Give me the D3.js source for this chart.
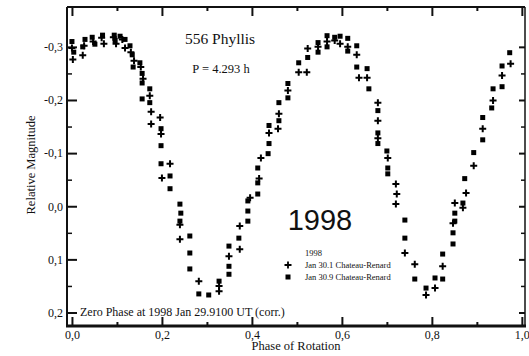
<!DOCTYPE html>
<html>
<head>
<meta charset="utf-8">
<script src="https://cdn.jsdelivr.net/npm/d3@7"></script>
<style>
	body { margin: 0; background: #fff; }
	svg text { font-family: "Liberation Serif", "Times New Roman", serif; fill: #111; }
</style>
</head>
<body>
<svg></svg>
<script>
// phase of rotation, relative magnitude
const jan301 = [
	[0.000,-0.298],[0.002,-0.276],[0.024,-0.284],[0.027,-0.302],[0.047,-0.310],[0.066,-0.317],
	[0.071,-0.306],[0.092,-0.318],[0.098,-0.306],[0.112,-0.314],[0.118,-0.298],[0.131,-0.290],
	[0.138,-0.274],[0.153,-0.262],[0.158,-0.240],[0.173,-0.208],[0.176,-0.178],[0.176,-0.155],
	[0.196,-0.167],[0.198,-0.136],[0.218,-0.080],[0.200,-0.053],[0.240,0.035],[0.240,0.062],
	[0.282,0.141],[0.327,0.150],[0.327,0.160],[0.349,0.094],[0.373,0.037],[0.373,0.081],
	[0.396,-0.016],[0.416,-0.052],[0.420,-0.091],[0.438,-0.138],[0.458,-0.146],[0.460,-0.174],
	[0.480,-0.218],[0.504,-0.252],[0.522,-0.252],[0.524,-0.297],[0.547,-0.300],[0.567,-0.310],
	[0.584,-0.312],[0.596,-0.306],[0.613,-0.300],[0.633,-0.285],[0.638,-0.242],[0.656,-0.242],
	[0.680,-0.195],[0.680,-0.161],[0.680,-0.128],[0.702,-0.091],[0.720,-0.042],[0.722,-0.023],
	[0.720,-0.004],[0.740,0.088],[0.762,0.109],[0.787,0.167],[0.807,0.154],[0.824,0.113],
	[0.847,0.032],[0.851,-0.006],[0.869,0.003],[0.876,-0.025],[0.893,-0.076],[0.913,-0.146],
	[0.936,-0.199],[0.956,-0.246],[0.975,-0.268]
];

const jan309 = [
	[0.000,-0.310],[0.004,-0.290],[0.024,-0.300],[0.029,-0.314],[0.045,-0.318],[0.051,-0.305],
	[0.068,-0.322],[0.094,-0.322],[0.096,-0.312],[0.107,-0.320],[0.118,-0.314],[0.129,-0.302],
	[0.134,-0.285],[0.136,-0.262],[0.151,-0.270],[0.156,-0.250],[0.156,-0.232],[0.156,-0.202],
	[0.173,-0.221],[0.173,-0.195],[0.198,-0.146],[0.198,-0.114],[0.198,-0.080],[0.218,-0.057],
	[0.218,-0.033],[0.240,-0.004],[0.242,0.013],[0.240,0.028],[0.262,0.056],[0.262,0.088],
	[0.262,0.118],[0.282,0.165],[0.304,0.167],[0.327,0.141],[0.349,0.075],[0.349,0.113],
	[0.349,0.128],[0.371,0.060],[0.391,-0.010],[0.391,0.009],[0.391,0.028],[0.413,-0.072],
	[0.413,-0.044],[0.413,-0.023],[0.436,-0.099],[0.438,-0.152],[0.438,-0.118],[0.460,-0.161],
	[0.460,-0.195],[0.480,-0.231],[0.480,-0.204],[0.504,-0.270],[0.524,-0.280],[0.547,-0.308],
	[0.547,-0.290],[0.567,-0.321],[0.567,-0.300],[0.584,-0.318],[0.596,-0.320],[0.613,-0.316],
	[0.613,-0.292],[0.633,-0.302],[0.633,-0.262],[0.656,-0.259],[0.660,-0.221],[0.680,-0.180],
	[0.680,-0.138],[0.680,-0.118],[0.700,-0.104],[0.702,-0.072],[0.702,-0.061],[0.740,0.026],
	[0.740,0.060],[0.762,0.137],[0.787,0.154],[0.807,0.135],[0.824,0.090],[0.824,0.137],
	[0.847,0.050],[0.847,0.071],[0.851,0.013],[0.851,0.028],[0.869,-0.006],[0.873,-0.052],
	[0.893,-0.101],[0.913,-0.167],[0.913,-0.125],[0.936,-0.221],[0.933,-0.185],[0.956,-0.264],
	[0.956,-0.225],[0.973,-0.289]
];

const xTicks = [0, 0.2, 0.4, 0.6, 0.8, 1.0];
const xMinor = [0.1, 0.3, 0.5, 0.7, 0.9];
const yTicks = [-0.3, -0.2, -0.1, 0.0, 0.1, 0.2];
const yMinor = [-0.25, -0.15, -0.05, 0.05, 0.15];
const legendLabels = ["Jan 30.1 Chateau-Renard", "Jan 30.9 Chateau-Renard"];

const W = 529, H = 356;
const plotL = 67, plotR = 525, plotT = 7, plotB = 325;

const svg = d3.select("svg").attr("width", W).attr("height", H);

const x = d3.scaleLinear().domain([-0.011, 1.007]).range([plotL, plotR]);
const y = d3.scaleLinear().domain([-0.375, 0.2235]).range([plotT, plotB]);

const fmt = (d) => d3.format(".1f")(d).replace("−", "-").replace(".", ",");

function styleAxis(g, w) {
	g.select(".domain").remove();
	g.selectAll("line").attr("stroke", "#111").attr("stroke-width", w);
	g.selectAll("text")
		.attr("font-family", "Liberation Serif, Times New Roman, serif")
		.attr("font-size", 12)
		.attr("fill", "#222");
}

// ticks point inward on all four sides
svg.append("g").attr("transform", `translate(${plotL},0)`)
	.call(d3.axisLeft(y).tickValues(yTicks).tickSize(-10).tickPadding(4).tickFormat(fmt))
	.call((g) => styleAxis(g, 2));
svg.append("g").attr("transform", `translate(${plotL},0)`)
	.call(d3.axisLeft(y).tickValues(yMinor).tickSize(-5).tickFormat(""))
	.call((g) => styleAxis(g, 1.5));
svg.append("g").attr("transform", `translate(${plotR},0)`)
	.call(d3.axisRight(y).tickValues(yTicks).tickSize(-6).tickFormat(""))
	.call((g) => styleAxis(g, 2));
svg.append("g").attr("transform", `translate(${plotR},0)`)
	.call(d3.axisRight(y).tickValues(yMinor).tickSize(-4).tickFormat(""))
	.call((g) => styleAxis(g, 1.5));
svg.append("g").attr("transform", `translate(0,${plotB})`)
	.call(d3.axisBottom(x).tickValues(xTicks).tickSize(-8).tickPadding(5).tickFormat(fmt))
	.call((g) => styleAxis(g, 2));
svg.append("g").attr("transform", `translate(0,${plotB})`)
	.call(d3.axisBottom(x).tickValues(xMinor).tickSize(-3).tickFormat(""))
	.call((g) => styleAxis(g, 2));
svg.append("g").attr("transform", `translate(0,${plotT})`)
	.call(d3.axisTop(x).tickValues(xTicks).tickSize(-9).tickFormat(""))
	.call((g) => styleAxis(g, 2));
svg.append("g").attr("transform", `translate(0,${plotT})`)
	.call(d3.axisTop(x).tickValues(xMinor).tickSize(-4).tickFormat(""))
	.call((g) => styleAxis(g, 2));

// frame
svg.append("line").attr("x1", plotL).attr("x2", plotL).attr("y1", plotT).attr("y2", plotB)
	.attr("stroke", "#111").attr("stroke-width", 2);
svg.append("line").attr("x1", plotR).attr("x2", plotR).attr("y1", plotT).attr("y2", plotB)
	.attr("stroke", "#111").attr("stroke-width", 1.5);
svg.append("line").attr("x1", plotL).attr("x2", plotR).attr("y1", plotT).attr("y2", plotT)
	.attr("stroke", "#111").attr("stroke-width", 2);
svg.append("line").attr("x1", plotL - 1).attr("x2", plotR + 1).attr("y1", plotB + 1).attr("y2", plotB + 1)
	.attr("stroke", "#111").attr("stroke-width", 3);

// axis titles
svg.append("text")
	.attr("x", (plotL + plotR) / 2)
	.attr("y", 350)
	.attr("text-anchor", "middle")
	.attr("font-size", 12.5)
	.text("Phase of Rotation");

svg.append("text")
	.attr("transform", "translate(35,165) rotate(-90)")
	.attr("text-anchor", "middle")
	.attr("font-size", 12.5)
	.text("Relative Magnitude");

// annotations
svg.append("text").attr("x", 220).attr("y", 44).attr("text-anchor", "middle")
	.attr("font-size", 15.5).text("556 Phyllis");
svg.append("text").attr("x", 221).attr("y", 73).attr("text-anchor", "middle")
	.attr("font-size", 12.5).text("P = 4.293 h");
svg.append("text").attr("x", 320).attr("y", 230).attr("text-anchor", "middle")
	.attr("font-size", 29).style("font-family", "Liberation Sans, Arial, sans-serif").text("1998");
svg.append("text").attr("x", 80).attr("y", 316)
	.attr("font-size", 12).text("Zero Phase at 1998 Jan 29.9100 UT (corr.)");

// data
const cross = "M-3.5,0H3.5M0,-3.5V3.5";

svg.append("g").selectAll("path")
	.data(jan301)
	.enter()
	.append("path")
	.attr("d", cross)
	.attr("transform", (d) => `translate(${x(d[0])},${y(d[1])})`)
	.attr("stroke", "#000")
	.attr("stroke-width", 2)
	.attr("fill", "none");

svg.append("g").selectAll("rect")
	.data(jan309)
	.enter()
	.append("rect")
	.attr("x", (d) => x(d[0]) - 2.5)
	.attr("y", (d) => y(d[1]) - 2.5)
	.attr("width", 5)
	.attr("height", 5)
	.attr("fill", "#000");

// legend
const legend = svg.append("g").attr("transform", "translate(288,0)");
legend.append("text").attr("x", 17).attr("y", 256).attr("font-size", 8.5).text("1998");
legend.append("path").attr("d", cross).attr("transform", "translate(0,265)")
	.attr("stroke", "#000").attr("stroke-width", 1.8);
legend.append("rect").attr("x", -2.5).attr("y", 274.5).attr("width", 5).attr("height", 5).attr("fill", "#000");
legend.selectAll("text.item")
	.data(legendLabels)
	.enter()
	.append("text")
	.attr("class", "item")
	.attr("x", 17)
	.attr("y", (_, i) => 268 + i * 12)
	.attr("font-size", 8.5)
	.text((d) => d);
</script>
</body>
</html>
